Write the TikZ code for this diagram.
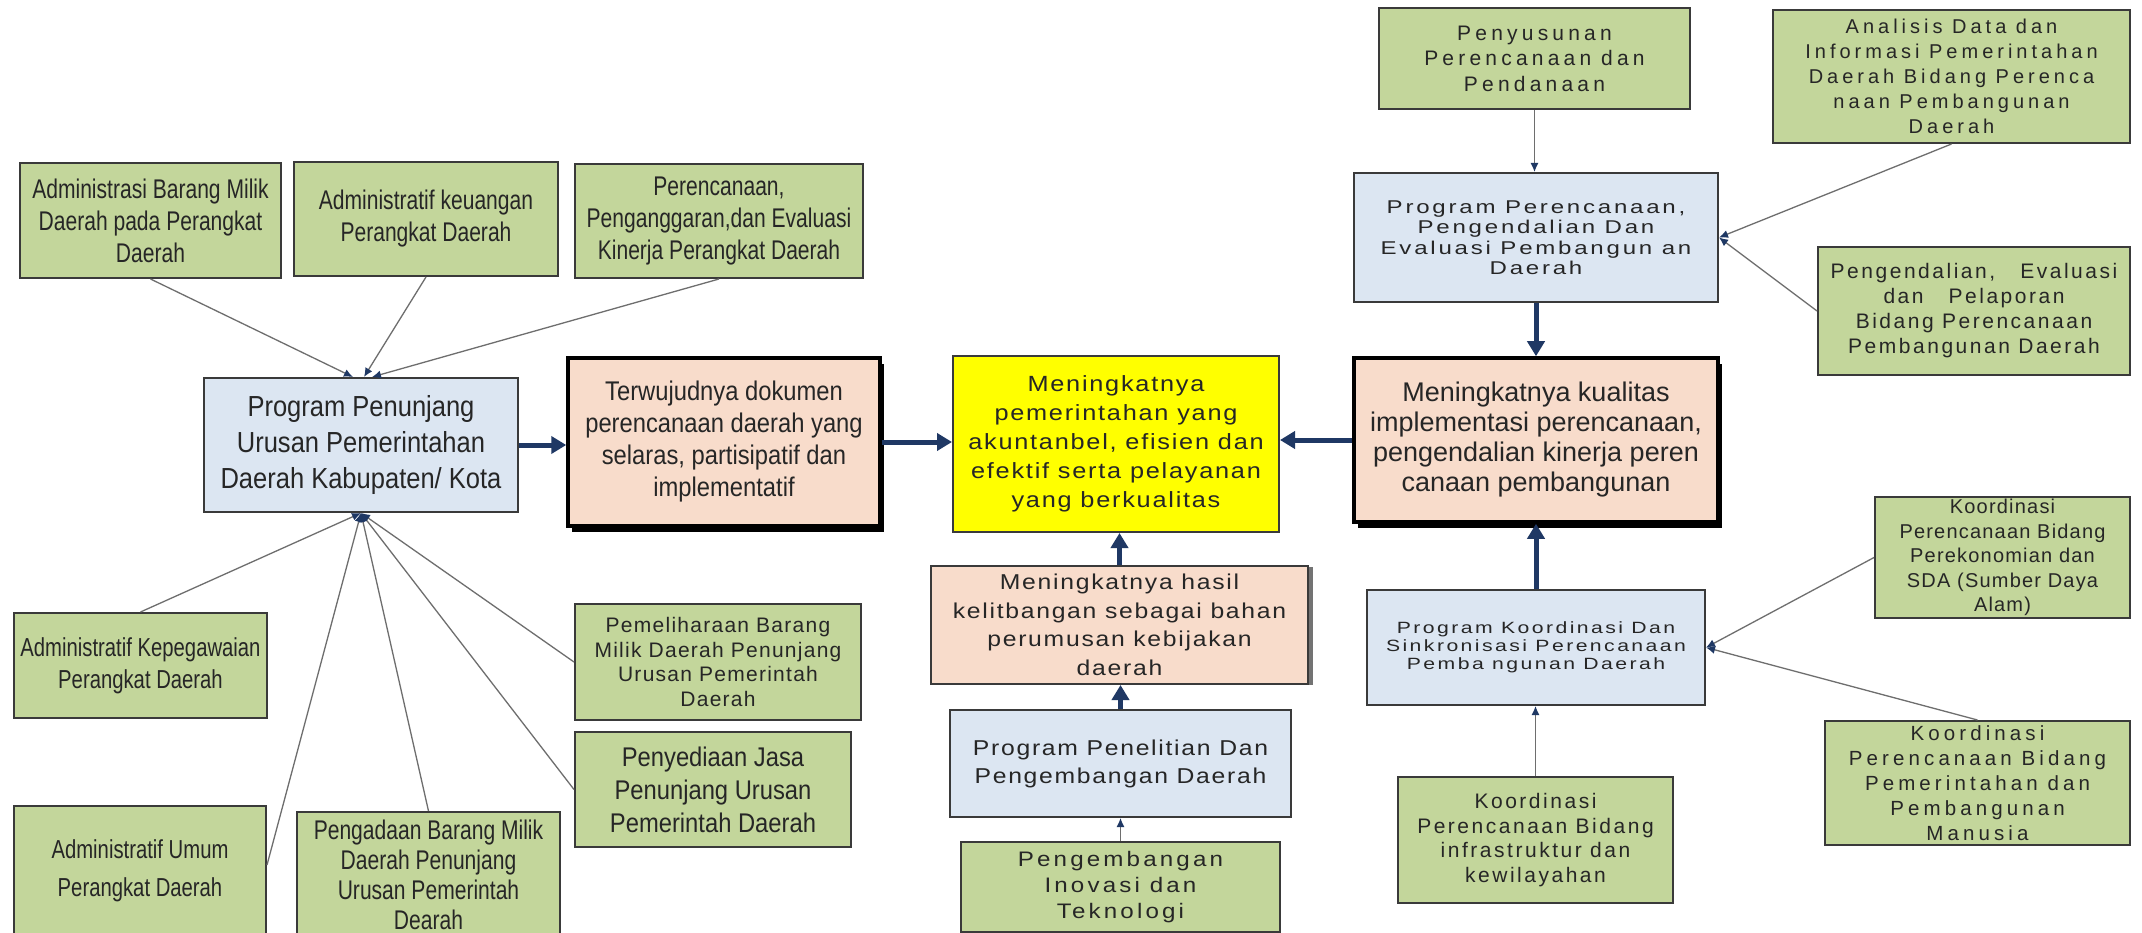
\documentclass[tikz,border=0pt]{standalone}
\usepackage{fontspec}
\setmainfont{Liberation Sans}
\newfontfamily\nar[FakeStretch=0.78]{Liberation Sans}
\newfontfamily\narb[FakeStretch=0.88]{Liberation Sans}
\newfontfamily\spa[LetterSpace=6]{Liberation Sans}
\newfontfamily\spb[LetterSpace=12]{Liberation Sans}
\newfontfamily\spc[LetterSpace=20]{Liberation Sans}
\newfontfamily\wideA[FakeStretch=1.15,LetterSpace=8]{Liberation Sans}
\newfontfamily\wideB[FakeStretch=1.15,LetterSpace=15]{Liberation Sans}
\newfontfamily\wideC[FakeStretch=1.3,LetterSpace=15]{Liberation Sans}
\usetikzlibrary{arrows.meta,calc,shadows}
\definecolor{grn}{HTML}{C3D69B}
\definecolor{blu}{HTML}{DCE6F2}
\definecolor{pch}{HTML}{F8DCCB}
\definecolor{yel}{HTML}{FFFF00}
\definecolor{nav}{HTML}{1F3864}
\definecolor{lin}{HTML}{6E6E6E}
\definecolor{bdr}{HTML}{3A3A3A}
\definecolor{txt}{HTML}{262626}
\begin{document}
\begin{tikzpicture}[x=1pt,y=-1pt,
 box/.style={draw=bdr,line width=2pt,align=center,inner sep=0pt,text=txt},
 gbox/.style={box,fill=grn},
 bbox/.style={box,fill=blu},
 pbox/.style={box,fill=pch},
 ybox/.style={box,fill=yel},
 shadowbox/.style={draw=black,line width=3.5pt,drop shadow={shadow xshift=4pt,shadow yshift=-6pt,fill=black,opacity=1}},
 bigarr/.style={draw=nav,line width=5pt,-{Triangle[length=15pt,width=17pt]}},
 thinarr/.style={draw=lin,line width=1.3pt,-{Latex[length=9pt,width=8pt,color=nav]}},
 fL/.style={font=\nar\fontsize{27}{32}\selectfont},
]
\fill[white] (0,0) rectangle (2142,933);
\useasboundingbox (0,0) rectangle (2142,933);
\clip (0,0) rectangle (2142,933);

% ---------- left cluster ----------
\node[gbox,fL,minimum width=261pt,minimum height=115pt] (a1) at (150.5,220.5) {Administrasi Barang Milik\\Daerah pada Perangkat\\Daerah};
\node[gbox,fL,minimum width=264pt,minimum height=114pt] (a2) at (426,219) {Administratif keuangan\\Perangkat Daerah};
\node[gbox,fL,minimum width=288pt,minimum height=114pt] (a3) at (719,221) {Perencanaan,\\Penganggaran,dan Evaluasi\\Kinerja Perangkat Daerah};
\node[bbox,minimum width=314pt,minimum height=134pt,font=\narb\fontsize{29}{36}\selectfont] (pp) at (361,445) {Program Penunjang\\Urusan Pemerintahan\\Daerah Kabupaten/ Kota};
\node[pbox,shadowbox,minimum width=312pt,minimum height=168pt,font=\narb\fontsize{27}{32}\selectfont] (terw) at (724,442) {Terwujudnya dokumen\\perencanaan daerah yang\\selaras, partisipatif dan\\implementatif};
\node[gbox,minimum width=253pt,minimum height=105pt,font=\nar\fontsize{26}{32}\selectfont] (ak) at (140.5,665.5) {Administratif Kepegawaian\\Perangkat Daerah};
\node[gbox,minimum width=252pt,minimum height=130pt,font=\nar\fontsize{26}{38}\selectfont] (au) at (140,871) {Administratif Umum\\Perangkat Daerah};
\node[gbox,minimum width=263pt,minimum height=126pt,font=\nar\fontsize{27}{30}\selectfont] (pb) at (428.5,875) {Pengadaan Barang Milik\\Daerah Penunjang\\Urusan Pemerintah\\Dearah};
\node[gbox,minimum width=286pt,minimum height=116pt,font=\spa\fontsize{21}{24.5}\selectfont] (pm) at (718,662) {Pemeliharaan Barang\\Milik Daerah Penunjang\\Urusan Pemerintah\\Daerah};
\node[gbox,minimum width=276pt,minimum height=115pt,font=\narb\fontsize{27}{33}\selectfont] (pj) at (713,789.5) {Penyediaan Jasa\\Penunjang Urusan\\Pemerintah Daerah};

% ---------- centre column ----------
\node[ybox,minimum width=326pt,minimum height=176pt,font=\wideA\fontsize{22}{29}\selectfont] (yel) at (1116,444) {Meningkatnya\\pemerintahan yang\\akuntanbel, efisien dan\\efektif serta pelayanan\\yang berkualitas};
\node[pbox,minimum width=377pt,minimum height=118pt,font=\wideA\fontsize{21.5}{28.5}\selectfont,drop shadow={shadow xshift=5pt,shadow yshift=-1pt,fill=black!55,opacity=1}] (mh) at (1119.5,625) {Meningkatnya hasil\\kelitbangan sebagai bahan\\perumusan kebijakan\\daerah};
\node[bbox,minimum width=341pt,minimum height=107pt,font=\wideA\fontsize{21.5}{28}\selectfont] (ppd) at (1120.5,763.5) {Program Penelitian Dan\\Pengembangan Daerah};
\node[gbox,minimum width=319pt,minimum height=90pt,font=\wideB\fontsize{21}{26}\selectfont] (pi) at (1120.5,887) {Pengembangan\\Inovasi dan\\Teknologi};

% ---------- right cluster ----------
\node[gbox,minimum width=311pt,minimum height=101pt,font=\spc\fontsize{21}{25.5}\selectfont] (ps) at (1534.5,58.5) {Penyusunan\\Perencanaan dan\\Pendanaan};
\node[gbox,minimum width=357pt,minimum height=133pt,font=\spc\fontsize{20}{25}\selectfont] (ad) at (1951.5,76.5) {Analisis Data dan\\Informasi Pemerintahan\\Daerah Bidang Perenca\\naan Pembangunan\\Daerah};
\node[bbox,minimum width=364pt,minimum height=129pt,font=\wideC\fontsize{18.5}{20.5}\selectfont] (ppe) at (1536,237.5) {Program Perencanaan,\\Pengendalian Dan\\Evaluasi Pembangun an\\Daerah};
\node[gbox,minimum width=312pt,minimum height=128pt,font=\spb\fontsize{21}{25}\selectfont] (pev) at (1974,311) {Pengendalian,\ \ \ Evaluasi\\dan\ \ \ Pelaporan\\Bidang Perencanaan\\Pembangunan Daerah};
\node[pbox,shadowbox,minimum width=364pt,minimum height=164pt,font=\fontsize{27}{30}\selectfont] (mk) at (1536,440) {Meningkatnya kualitas\\implementasi perencanaan,\\pengendalian kinerja peren\\canaan pembangunan};
\node[gbox,minimum width=255pt,minimum height=121pt,font=\spa\fontsize{20}{24.5}\selectfont] (kp) at (2002.5,557.5) {Koordinasi\\Perencanaan Bidang\\Perekonomian dan\\SDA (Sumber Daya\\Alam)};
\node[bbox,minimum width=338pt,minimum height=115pt,font=\wideC\fontsize{16.3}{18}\selectfont] (pk) at (1536,647.5) {Program Koordinasi Dan\\Sinkronisasi Perencanaan\\Pemba ngunan Daerah};
\node[gbox,minimum width=305pt,minimum height=124pt,font=\spc\fontsize{20.5}{25}\selectfont] (kpm) at (1977.5,783) {Koordinasi\\Perencanaan Bidang\\Pemerintahan dan\\Pembangunan\\Manusia};
\node[gbox,minimum width=275pt,minimum height=126pt,font=\spb\fontsize{21}{24.5}\selectfont] (ki) at (1535.5,840) {Koordinasi\\Perencanaan Bidang\\infrastruktur dan\\kewilayahan};

% ---------- thin connectors ----------
\draw[thinarr] (a1.south) -- ($(pp.north)+(-8,0)$);
\draw[thinarr] (a2.south) -- ($(pp.north)+(3,0)$);
\draw[thinarr] (a3.south) -- ($(pp.north)+(11,0)$);
\draw[thinarr] (ak.north) -- (pp.south);
\draw[thinarr] ($(au.north east)+(0,60)$) -- (pp.south);
\draw[thinarr] (pb.north) -- (pp.south);
\draw[thinarr] (pj.west) -- (pp.south);
\draw[thinarr] (pm.west) -- (pp.south);
\draw[thinarr] (pi.north) -- (pi.north |- ppd.south);
\draw[thinarr] (ps.south) -- (ps.south |- ppe.north);
\draw[thinarr] (ad.south) -- (ppe.east);
\draw[thinarr] (pev.west) -- (ppe.east);
\draw[thinarr] (kp.west) -- (pk.east);
\draw[thinarr] (kpm.north) -- (pk.east);
\draw[thinarr] (ki.north) -- (ki.north |- pk.south);

% ---------- thick arrows ----------
\draw[bigarr] (pp.east) -- (pp.east -| terw.west);
\draw[bigarr] (terw.east) -- (terw.east -| yel.west);
\draw[bigarr] (mk.west) -- (mk.west -| yel.east);
\draw[bigarr] (mh.north) -- (mh.north |- yel.south);
\draw[bigarr] (ppd.north) -- (ppd.north |- mh.south);
\draw[bigarr] (ppe.south) -- (ppe.south |- mk.north);
\draw[bigarr] (pk.north) -- (pk.north |- mk.south);
\end{tikzpicture}
\end{document}
